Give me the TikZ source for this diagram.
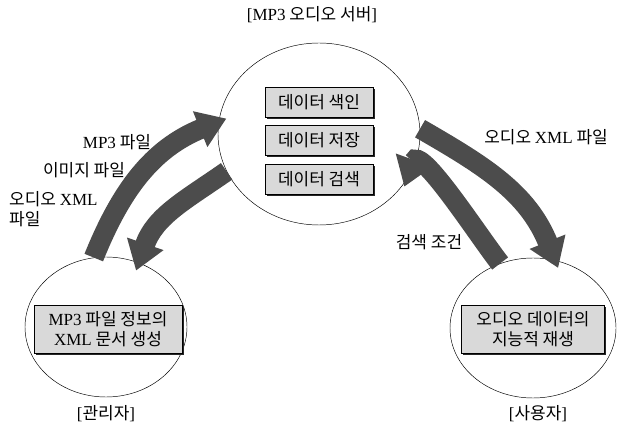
\documentclass[tikz,border=0pt]{standalone}
\usepackage{fontspec}
\setmainfont{Liberation Serif}
\newfontfamily\kr{Noto Sans CJK KR}
\newcommand{\lat}[1]{{\rmfamily #1}}
\usetikzlibrary{shapes.geometric,arrows.meta,shadows,positioning}

\begin{document}
\begin{tikzpicture}[x=0.03cm, y=0.03cm,
      font=\kr\fontsize{14.5}{17}\selectfont,
      place/.style={ellipse, draw, thin, inner sep=0pt},
      graybox/.style={rectangle, draw, thin, fill=black!15, align=center,
        drop shadow={shadow xshift=0.05cm, shadow yshift=-0.05cm,
          fill=black!85, opacity=1}},
      bigarrow/.style={line width=0.6cm, draw=black!70, shorten >=-0.25cm,
        -{Triangle[width=1.1cm, length=0.85cm]}}]

    \useasboundingbox (0,0) rectangle (624,425);

    \node[place, minimum width=6.06cm, minimum height=5.46cm] (server) at (319,291) {};
    \node[place, minimum width=4.86cm, minimum height=4.2cm] (admin) at (106,98) {};
    \node[place, minimum width=4.98cm, minimum height=4.2cm] (user) at (533,97) {};

    \node[graybox, minimum width=3.24cm, minimum height=0.9cm] (index) at (319,323) {데이터 색인};
    \node[graybox, minimum width=3.24cm, minimum height=0.9cm, below=0.24cm of index] (store) {데이터 저장};
    \node[graybox, minimum width=3.24cm, minimum height=0.9cm, below=0.24cm of store] (search) {데이터 검색};

    \node[graybox, minimum width=4.44cm, minimum height=1.44cm, inner sep=1pt] (mkxml) at (108,96)
      {\lat{MP3} 파일 정보의\\ \lat{XML} 문서 생성};
    \node[graybox, minimum width=4.29cm, minimum height=1.44cm, inner sep=1pt] (play) at (533,96)
      {오디오 데이터의\\ 지능적 재생};

    \node (servername) at (312,410) {\lat{[MP3} 오디오 서버\lat{]}};
    \node (adminname) at (106,11) {\lat{[}관리자\lat{]}};
    \node (username) at (538,11) {\lat{[}사용자\lat{]}};

    \draw[bigarrow] (admin.100) to[out=68, in=202] (server.173);
    \draw[bigarrow] (server.202) to[out=215, in=71] (admin.63);
    \draw[bigarrow] (server.3) to[out=-30, in=112] (user.72);
    \draw[bigarrow] (user.117) to[out=128, in=70, looseness=0.75] (server.333);

    \node (mp3file) at (117,283) {\lat{MP3} 파일};
    \node (imgfile) at (84,255) {이미지 파일};
    \node[align=left, anchor=west] (xmlfile) at (5,216) {오디오 \lat{XML}\\ 파일};
    \node (outfile) at (546,288) {오디오 \lat{XML} 파일};
    \node (query) at (429,183) {검색 조건};

  \end{tikzpicture}
\end{document}
